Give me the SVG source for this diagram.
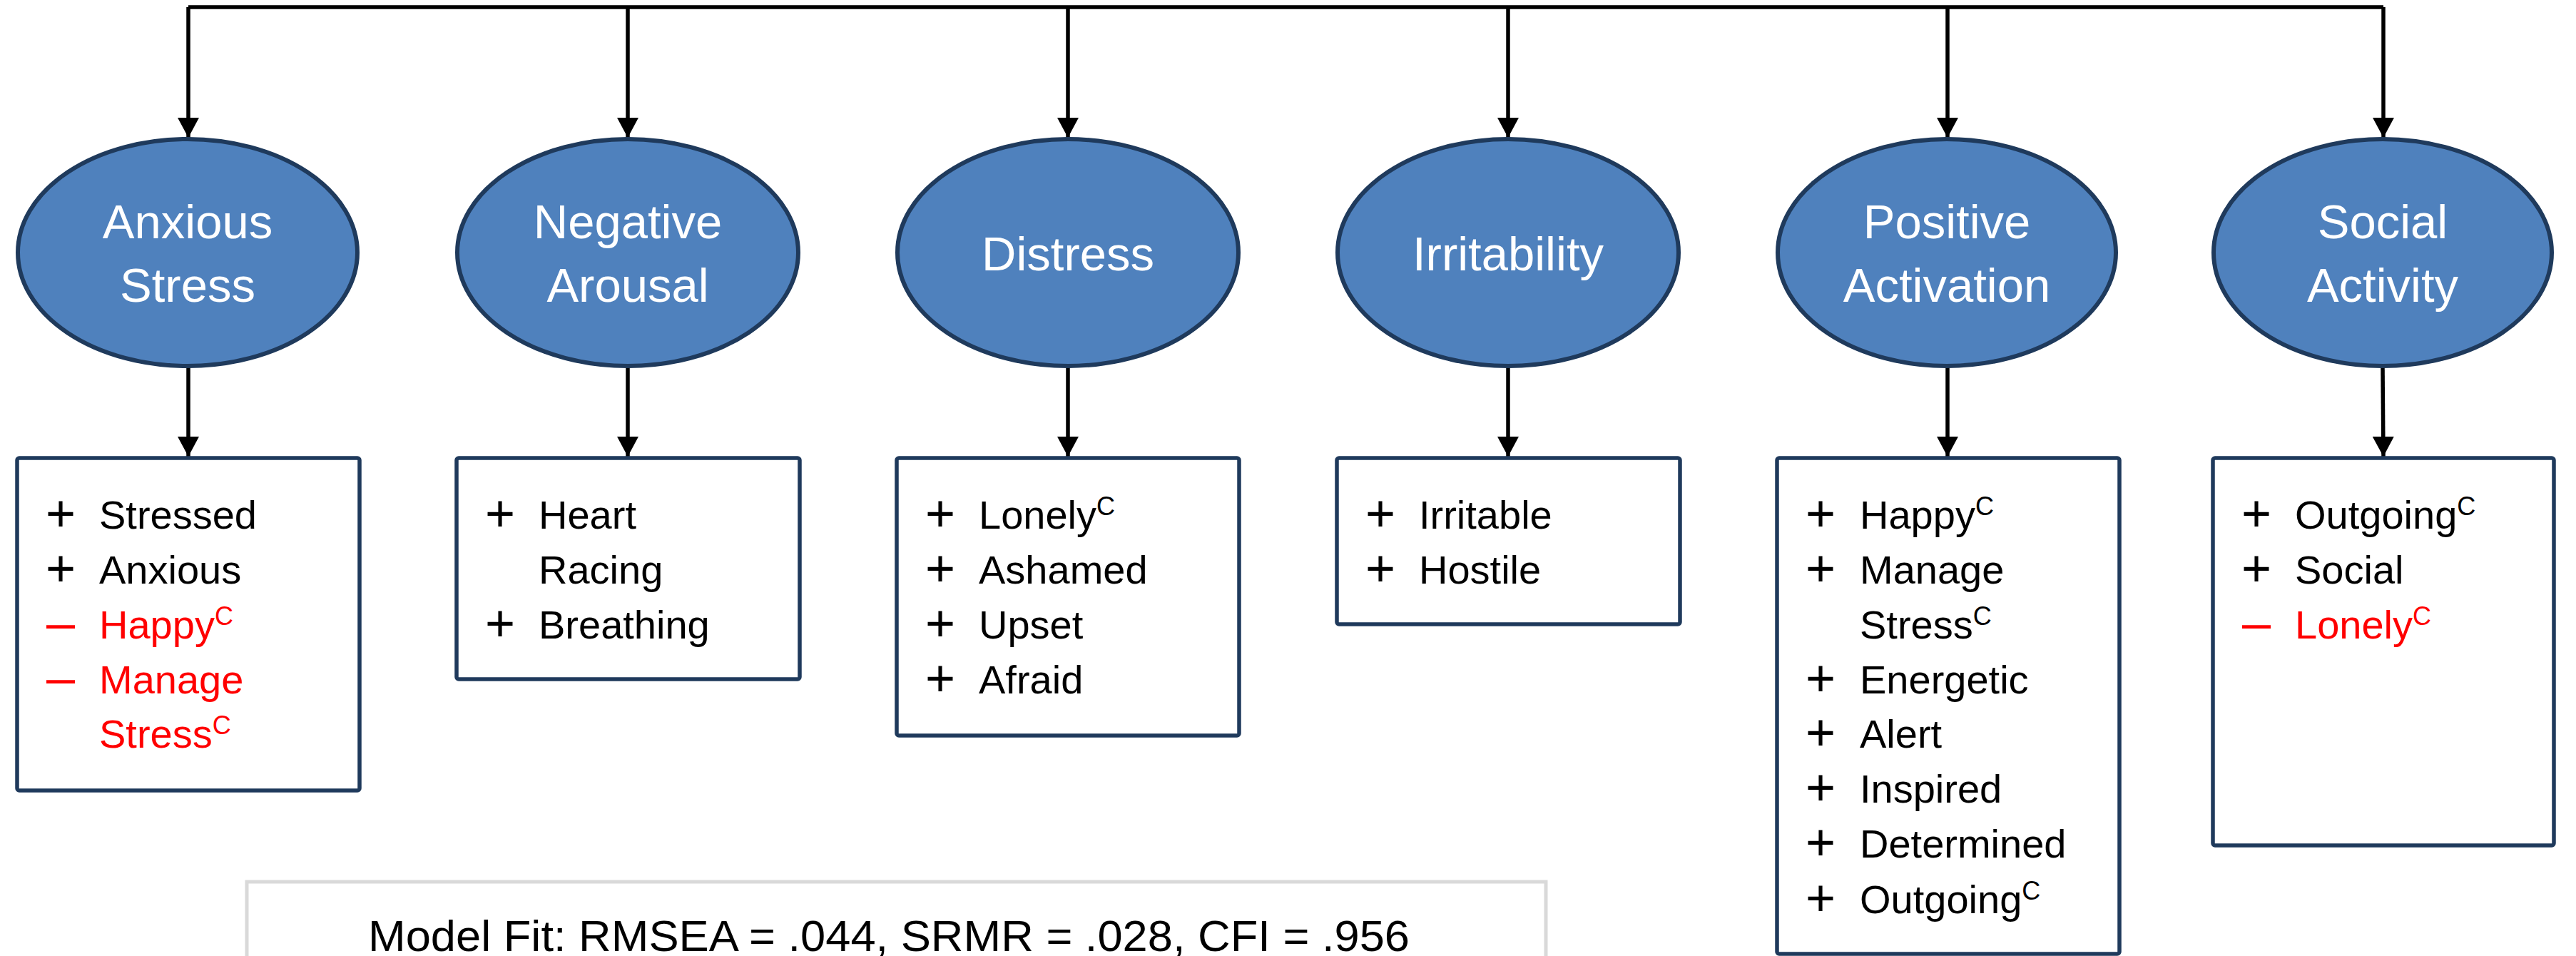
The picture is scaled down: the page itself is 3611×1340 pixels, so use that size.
<svg xmlns="http://www.w3.org/2000/svg" width="3611" height="1340" viewBox="0 0 3611 1340">
<defs>
<style>
.conn{fill:none;stroke:#000;stroke-width:5.5}
.ell{fill:#4F81BD;stroke:#1F3A5C;stroke-width:6}
.box{fill:#fff;stroke:#1F3A5C;stroke-width:5.5}
.fit{fill:#fff;stroke:#D9D9D9;stroke-width:5}
.lat{font-family:"Liberation Sans",Arial,sans-serif;font-size:67px;fill:#fff;text-anchor:middle}
.it{font-family:"Liberation Sans",Arial,sans-serif;font-size:56px;fill:#000}
.sg{font-family:"Liberation Sans",Arial,sans-serif;font-size:72px;fill:#000;text-anchor:middle}
.neg{fill:#FF0000}
.sup{font-size:36px}
.fitt{font-family:"Liberation Sans",Arial,sans-serif;font-size:62px;fill:#000;text-anchor:middle}
</style>
<marker id="ah" markerUnits="userSpaceOnUse" markerWidth="30" markerHeight="30" viewBox="0 0 28 30" refX="28" refY="15" orient="auto">
<path d="M0,0 L28,15 L0,30 Z" fill="#000"/>
</marker>
</defs>
<rect width="3611" height="1340" fill="#fff"/>

<g id="connectors">
<path class="conn" d="M264,10 H3341"/>
<path class="conn" d="M264,10 V193" marker-end="url(#ah)"/>
<path class="conn" d="M880,10 V193" marker-end="url(#ah)"/>
<path class="conn" d="M1497,10 V193" marker-end="url(#ah)"/>
<path class="conn" d="M2114,10 V193" marker-end="url(#ah)"/>
<path class="conn" d="M2730,10 V193" marker-end="url(#ah)"/>
<path class="conn" d="M3341,10 V193" marker-end="url(#ah)"/>
<path class="conn" d="M264,515 V640" marker-end="url(#ah)"/>
<path class="conn" d="M880,515 V640" marker-end="url(#ah)"/>
<path class="conn" d="M1497,515 V640" marker-end="url(#ah)"/>
<path class="conn" d="M2114,515 V640" marker-end="url(#ah)"/>
<path class="conn" d="M2730,515 V640" marker-end="url(#ah)"/>
<path class="conn" d="M3340,515 L3341,640" marker-end="url(#ah)"/>
</g>

<g id="anxious-stress">
<ellipse class="ell" cx="263" cy="354" rx="238" ry="159"/>
<text class="lat" x="263" y="334">Anxious</text>
<text class="lat" x="263" y="423">Stress</text>
</g>
<g id="negative-arousal">
<ellipse class="ell" cx="880" cy="354" rx="239" ry="159"/>
<text class="lat" x="880" y="334">Negative</text>
<text class="lat" x="880" y="423">Arousal</text>
</g>
<g id="distress">
<ellipse class="ell" cx="1497" cy="354" rx="239" ry="159"/>
<text class="lat" x="1497" y="379">Distress</text>
</g>
<g id="irritability">
<ellipse class="ell" cx="2114" cy="354" rx="239" ry="159"/>
<text class="lat" x="2114" y="379">Irritability</text>
</g>
<g id="positive-activation">
<ellipse class="ell" cx="2729" cy="354" rx="237" ry="159"/>
<text class="lat" x="2729" y="334">Positive</text>
<text class="lat" x="2729" y="423">Activation</text>
</g>
<g id="social-activity">
<ellipse class="ell" cx="3340" cy="354" rx="237" ry="159"/>
<text class="lat" x="3340" y="334">Social</text>
<text class="lat" x="3340" y="423">Activity</text>
</g>

<g id="box-anxious-stress">
<rect class="box" x="24" y="642" width="480" height="466" rx="3"/>
<text class="sg" x="85" y="744">+</text><text class="it" x="139" y="741">Stressed</text>
<text class="sg" x="85" y="821">+</text><text class="it" x="139" y="818">Anxious</text>
<text class="sg neg" x="85" y="897">–</text><text class="it neg" x="139" y="895">Happy<tspan class="sup" dy="-19">C</tspan></text>
<text class="sg neg" x="85" y="974">–</text><text class="it neg" x="139" y="972">Manage</text>
<text class="it neg" x="139" y="1048">Stress<tspan class="sup" dy="-19">C</tspan></text>
</g>

<g id="box-negative-arousal">
<rect class="box" x="640" y="642" width="481" height="310" rx="3"/>
<text class="sg" x="701" y="744">+</text><text class="it" x="755" y="741">Heart</text>
<text class="it" x="755" y="818">Racing</text>
<text class="sg" x="701" y="898">+</text><text class="it" x="755" y="895">Breathing</text>
</g>

<g id="box-distress">
<rect class="box" x="1257" y="642" width="480" height="389" rx="3"/>
<text class="sg" x="1318" y="744">+</text><text class="it" x="1372" y="741">Lonely<tspan class="sup" dy="-19">C</tspan></text>
<text class="sg" x="1318" y="821">+</text><text class="it" x="1372" y="818">Ashamed</text>
<text class="sg" x="1318" y="898">+</text><text class="it" x="1372" y="895">Upset</text>
<text class="sg" x="1318" y="975">+</text><text class="it" x="1372" y="972">Afraid</text>
</g>

<g id="box-irritability">
<rect class="box" x="1874" y="642" width="481" height="233" rx="3"/>
<text class="sg" x="1935" y="744">+</text><text class="it" x="1989" y="741">Irritable</text>
<text class="sg" x="1935" y="821">+</text><text class="it" x="1989" y="818">Hostile</text>
</g>

<g id="box-positive-activation">
<rect class="box" x="2491" y="642" width="480" height="695" rx="3"/>
<text class="sg" x="2552" y="744">+</text><text class="it" x="2607" y="741">Happy<tspan class="sup" dy="-19">C</tspan></text>
<text class="sg" x="2552" y="821">+</text><text class="it" x="2607" y="818">Manage</text>
<text class="it" x="2607" y="895">Stress<tspan class="sup" dy="-19">C</tspan></text>
<text class="sg" x="2552" y="975">+</text><text class="it" x="2607" y="972">Energetic</text>
<text class="sg" x="2552" y="1051">+</text><text class="it" x="2607" y="1048">Alert</text>
<text class="sg" x="2552" y="1128">+</text><text class="it" x="2607" y="1125">Inspired</text>
<text class="sg" x="2552" y="1205">+</text><text class="it" x="2607" y="1202">Determined</text>
<text class="sg" x="2552" y="1283">+</text><text class="it" x="2607" y="1280">Outgoing<tspan class="sup" dy="-19">C</tspan></text>
</g>

<g id="box-social-activity">
<rect class="box" x="3102" y="642" width="478" height="543" rx="3"/>
<text class="sg" x="3163" y="744">+</text><text class="it" x="3217" y="741">Outgoing<tspan class="sup" dy="-19">C</tspan></text>
<text class="sg" x="3163" y="821">+</text><text class="it" x="3217" y="818">Social</text>
<text class="sg neg" x="3163" y="897">–</text><text class="it neg" x="3217" y="895">Lonely<tspan class="sup" dy="-19">C</tspan></text>
</g>

<g id="model-fit">
<rect class="fit" x="346" y="1236" width="1821" height="200"/>
<text class="fitt" x="1246" y="1333" textLength="1460" lengthAdjust="spacingAndGlyphs">Model Fit: RMSEA = .044, SRMR = .028, CFI = .956</text>
</g>
</svg>
